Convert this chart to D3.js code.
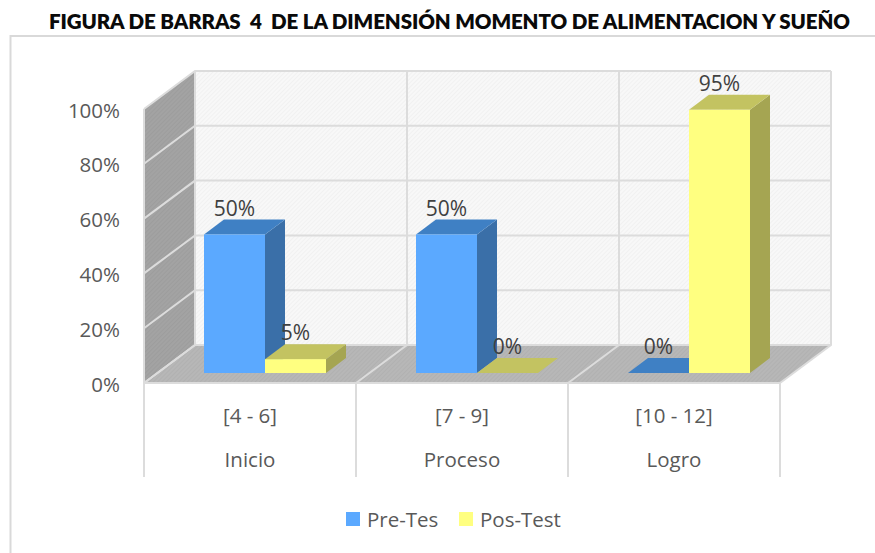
<!DOCTYPE html>
<html><head><meta charset="utf-8">
<style>html,body{margin:0;padding:0;background:#fff}svg{display:block}text{font-family:"Open Sans","Noto Sans",sans-serif}</style>
<script src="https://cdn.jsdelivr.net/npm/d3@7/dist/d3.min.js"></script>
</head><body><svg id="c" width="875" height="553"></svg>
<script>
const title = "FIGURA DE BARRAS  4  DE LA DIMENSIÓN MOMENTO DE ALIMENTACION Y SUEÑO";
const ranges = ["[4 - 6]", "[7 - 9]", "[10 - 12]"];
const levels = ["Inicio", "Proceso", "Logro"];
const seriesNames = ["Pre-Tes", "Pos-Test"];
const preTest = [50, 50, 0];
const posTest = [5, 0, 95];
const ticks = [0, 20, 40, 60, 80, 100];
const colors = [{front:"#5BA9FF",top:"#3F80C4",side:"#3A6FA8"},{front:"#FFFF80",top:"#C3C361",side:"#A5A552"}];

const svg = d3.select("#c");
const defs = svg.append("defs");
function hatch(id, bg, fg){
  const p = defs.append("pattern").attr("id",id).attr("width",3).attr("height",3)
    .attr("patternUnits","userSpaceOnUse").attr("patternTransform","rotate(-45)");
  p.append("rect").attr("width",3).attr("height",3).attr("fill",bg);
  p.append("rect").attr("width",3).attr("height",1).attr("fill",fg);
}
hatch("wall","#f8f8f8","#f1f1f1");
hatch("side","#a3a3a3","#9d9d9d");
hatch("floor","#b7b7b7","#b1b1b1");

const x = d3.scaleBand().domain(d3.range(ranges.length)).range([144,780]);
const y = d3.scaleLinear().domain([0,100]).range([383,109]);
const barY = d3.scaleLinear().domain([0,100]).range([373,96]);
const DX = 51, DY = -38;          // depth of the box
const dx = 20, dy = -15;          // depth of a bar
const barW = 61, barOff = 60;
const grid = "#dcdcdc";
const poly = pts => pts.map(p=>p.join(",")).join(" ");
const L = x.range()[0], R = x.range()[1];

// outer frame: only top and left edges fall inside the picture
svg.append("polyline").attr("points",poly([[875,36],[10.5,36],[10.5,553]]))
  .attr("fill","none").attr("stroke","#d9d9d9").attr("stroke-width",2);

// title
svg.append("text").attr("x",49).attr("y",29).attr("textLength",801).attr("lengthAdjust","spacing")
  .style("font-family","Lato,'Open Sans',sans-serif").style("font-weight",800).style("font-size","20.5px")
  .attr("fill","#0a0a0a").style("white-space","pre").text(title);

// walls and floor
svg.append("polygon").attr("points",poly([[L+DX,y(100)+DY],[R+DX,y(100)+DY],[R+DX,y(0)+DY],[L+DX,y(0)+DY]])).attr("fill","url(#wall)");
svg.append("polygon").attr("points",poly([[L,y(100)],[L+DX,y(100)+DY],[L+DX,y(0)+DY],[L,y(0)]])).attr("fill","url(#side)");
svg.append("polygon").attr("points",poly([[L,y(0)],[L+DX,y(0)+DY],[R+DX,y(0)+DY],[R,y(0)]])).attr("fill","url(#floor)");

// gridlines
ticks.forEach(t=>{
  svg.append("polyline").attr("fill","none").attr("stroke",grid).attr("stroke-width",2)
    .attr("points",poly([[L,y(t)],[L+DX,y(t)+DY],[R+DX,y(t)+DY]]));
});
svg.append("line").attr("x1",L).attr("x2",L).attr("y1",y(100)).attr("y2",y(0)).attr("stroke",grid).attr("stroke-width",2);
d3.range(ranges.length+1).forEach(i=>{
  const xx = i<ranges.length ? x(i) : R;
  svg.append("polyline").attr("fill","none").attr("stroke",grid).attr("stroke-width",2)
    .attr("points",poly([[xx,y(0)],[xx+DX,y(0)+DY],[xx+DX,y(100)+DY]]));
  svg.append("line").attr("x1",xx).attr("x2",xx).attr("y1",y(0)).attr("y2",477).attr("stroke",grid).attr("stroke-width",2);
});
svg.append("line").attr("x1",L).attr("x2",R).attr("y1",y(0)).attr("y2",y(0)).attr("stroke",grid).attr("stroke-width",2);

// bars
[preTest,posTest].forEach((vals,s)=>{
  const g = svg.append("g");
  vals.forEach((v,i)=>{
    const x0 = x(i)+barOff+s*barW, x1 = x0+barW, yb = barY(0), yt = barY(v), c = colors[s];
    if(v>0) g.append("polygon").attr("points",poly([[x1,yt],[x1+dx,yt+dy],[x1+dx,yb+dy],[x1,yb]])).attr("fill",c.side);
    g.append("polygon").attr("points",poly([[x0,yt],[x0+dx,yt+dy],[x1+dx,yt+dy],[x1,yt]])).attr("fill",c.top);
    if(v>0) g.append("rect").attr("x",x0).attr("y",yt).attr("width",barW).attr("height",yb-yt).attr("fill",c.front);
  });
});
// data labels
[preTest,posTest].forEach((vals,s)=>{
  vals.forEach((v,i)=>{
    const cx = x(i)+barOff+s*barW+barW/2;
    svg.append("text").attr("x",cx).attr("y",barY(v)+dy-4).attr("text-anchor","middle")
      .style("font-size","21px").attr("fill","#404040").text(v+"%");
  });
});

// y axis labels
const tickCol = "#595959";
ticks.forEach(t=>{
  svg.append("text").attr("x",120).attr("y",y(t)+8.5).attr("text-anchor","end")
    .style("font-size","20.5px").attr("fill",tickCol).text(t+"%");
});
// category labels
ranges.forEach((r,i)=>{
  const cx = x(i)+x.bandwidth()/2;
  svg.append("text").attr("x",cx).attr("y",423).attr("text-anchor","middle").style("font-size","20.5px").attr("fill",tickCol).text(r);
  svg.append("text").attr("x",cx).attr("y",467).attr("text-anchor","middle").style("font-size","20.5px").attr("fill",tickCol).text(levels[i]);
});
// legend
const lx = [346,459];
seriesNames.forEach((n,i)=>{
  svg.append("rect").attr("x",lx[i]).attr("y",512).attr("width",14).attr("height",14).attr("fill",colors[i].front);
  svg.append("text").attr("x",lx[i]+21).attr("y",527).style("font-size","20.5px").attr("fill",tickCol).text(n);
});
</script></body></html>
